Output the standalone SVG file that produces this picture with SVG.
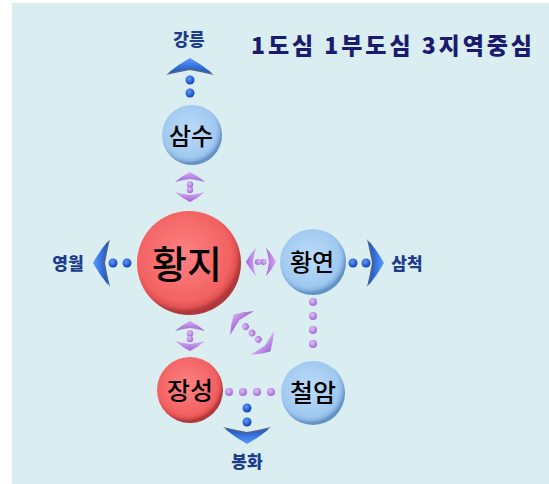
<svg xmlns="http://www.w3.org/2000/svg" width="549" height="484" viewBox="0 0 549 484">
<style>
.lbl{font-family:"Noto Sans CJK KR","Noto Sans",sans-serif;font-weight:900;font-size:17px;fill:#1d3c8c;text-anchor:middle}
.nt{font-family:"Noto Sans CJK KR","Noto Sans",sans-serif;font-weight:500;fill:#000;text-anchor:middle}
.title{font-family:"Noto Sans CJK KR","Noto Sans",sans-serif;font-weight:900;font-size:23px;fill:#1b1b6e}
.pd{fill:url(#gPurpleDot)}
.bd{fill:url(#gBlueDot)}
</style>
<defs>
<radialGradient id="gRed" cx="45%" cy="42%" r="55%">
<stop offset="0" stop-color="#ff8282"/>
<stop offset="0.82" stop-color="#f26262"/>
<stop offset="0.92" stop-color="#e45252"/>
<stop offset="1" stop-color="#b03838"/>
</radialGradient>
<radialGradient id="gBlue" cx="45%" cy="42%" r="55%">
<stop offset="0" stop-color="#bcdcfa"/>
<stop offset="0.82" stop-color="#a0c9f0"/>
<stop offset="0.92" stop-color="#8ab6e4"/>
<stop offset="1" stop-color="#6592c4"/>
</radialGradient>
<radialGradient id="gPurpleDot" cx="40%" cy="35%" r="60%">
<stop offset="0" stop-color="#e0c0f8"/>
<stop offset="1" stop-color="#a870d8"/>
</radialGradient>
<radialGradient id="gBlueDot" cx="40%" cy="35%" r="60%">
<stop offset="0" stop-color="#5a9cff"/>
<stop offset="1" stop-color="#1a48b8"/>
</radialGradient>
<linearGradient id="gBlueArr" x1="0" y1="0" x2="0" y2="1">
<stop offset="0" stop-color="#5a9cff"/>
<stop offset="1" stop-color="#1c52c4"/>
</linearGradient>
<linearGradient id="gPurArr" x1="0" y1="0" x2="0" y2="1">
<stop offset="0" stop-color="#d6aaf4"/>
<stop offset="1" stop-color="#a066d4"/>
</linearGradient>
<g id="blueChev">
<path d="M0,2 Q11,8 24,17 Q11,14 0,12 Q-11,14 -24,17 Q-11,8 0,2 Z" fill="#142a66" opacity="0.7"/>
<path d="M0,0 Q11,6 22,15 Q11,12 0,10 Q-11,12 -22,15 Q-11,6 0,0 Z" fill="url(#gBlueArr)"/>
</g>
<g id="purDbl">
<path d="M0,-15 Q8,-11 15,-5 Q8,-7 0,-8 Q-8,-7 -15,-5 Q-8,-11 0,-15 Z" fill="url(#gPurArr)"/>
<circle class="pd" cx="0" cy="-2.5" r="3.2"/>
<circle class="pd" cx="0" cy="3" r="3.2"/>
<path d="M0,15 Q8,11 15,5 Q8,7 0,8 Q-8,7 -15,5 Q-8,11 0,15 Z" fill="url(#gPurArr)"/>
</g>
<g id="purDblLong">
<path d="M0,-26 Q9,-21 17,-14 Q9,-16 0,-18 Q-9,-16 -17,-14 Q-9,-21 0,-26 Z" fill="url(#gPurArr)"/>
<circle class="pd" cx="0" cy="-9" r="3.4"/>
<circle class="pd" cx="0" cy="0" r="3.4"/>
<circle class="pd" cx="0" cy="9" r="3.4"/>
<path d="M0,26 Q9,21 17,14 Q9,16 0,18 Q-9,16 -17,14 Q-9,21 0,26 Z" fill="url(#gPurArr)"/>
</g>
</defs>

<rect x="12" y="3" width="537" height="481" fill="#daedf0"/>

<text class="title" x="251" y="54" textLength="281" lengthAdjust="spacing">1도심 1부도심 3지역중심</text>

<g id="connectors">
<use href="#purDbl" transform="translate(190,187)"/>
<use href="#purDbl" transform="translate(261,262) rotate(90) scale(0.95,1)"/>
<use href="#purDbl" transform="translate(190,336)"/>
<use href="#purDblLong" transform="translate(252,333) rotate(-45)"/>
<circle class="pd" cx="313" cy="302" r="4"/>
<circle class="pd" cx="313" cy="316" r="4"/>
<circle class="pd" cx="313" cy="330" r="4"/>
<circle class="pd" cx="313" cy="344" r="4"/>
<circle class="pd" cx="229" cy="392" r="4"/>
<circle class="pd" cx="243" cy="392" r="4"/>
<circle class="pd" cx="257" cy="392" r="4"/>
<circle class="pd" cx="271" cy="392" r="4"/>
<circle class="bd" cx="190" cy="80" r="4.5"/>
<circle class="bd" cx="190" cy="93" r="4.5"/>
<use href="#blueChev" transform="translate(190,58)"/>
<circle class="bd" cx="113" cy="263" r="4.5"/>
<circle class="bd" cx="127" cy="263" r="4.5"/>
<use href="#blueChev" transform="translate(93,263) rotate(-90)"/>
<circle class="bd" cx="353" cy="263" r="4.5"/>
<circle class="bd" cx="366" cy="263" r="4.5"/>
<use href="#blueChev" transform="translate(384,263) rotate(90)"/>
<circle class="bd" cx="247" cy="408" r="4.5"/>
<circle class="bd" cx="247" cy="422" r="4.5"/>
<use href="#blueChev" transform="translate(247,444) rotate(180)"/>
</g>

<g id="lbl-gangneung"><text class="lbl" x="189" y="46">강릉</text></g>
<g id="lbl-yeongwol"><text class="lbl" x="68" y="270">영월</text></g>
<g id="lbl-samcheok"><text class="lbl" x="407" y="270">삼척</text></g>
<g id="lbl-bonghwa"><text class="lbl" x="247" y="468">봉화</text></g>

<g id="node-samsu">
<circle cx="192" cy="135" r="30" fill="url(#gBlue)"/>
<text class="nt" x="191" y="145" font-size="24">삼수</text>
</g>
<g id="node-hwangji">
<circle cx="189" cy="263" r="52" fill="url(#gRed)"/>
<text class="nt" x="187" y="278" font-size="38">황지</text>
</g>
<g id="node-hwangyeon">
<circle cx="313" cy="262" r="33" fill="url(#gBlue)"/>
<text class="nt" x="312" y="271" font-size="24">황연</text>
</g>
<g id="node-jangseong">
<circle cx="190" cy="390" r="33" fill="url(#gRed)"/>
<text class="nt" x="190" y="400" font-size="25">장성</text>
</g>
<g id="node-cheoram">
<circle cx="313" cy="393" r="32" fill="url(#gBlue)"/>
<text class="nt" x="313" y="402" font-size="25">철암</text>
</g>
</svg>
